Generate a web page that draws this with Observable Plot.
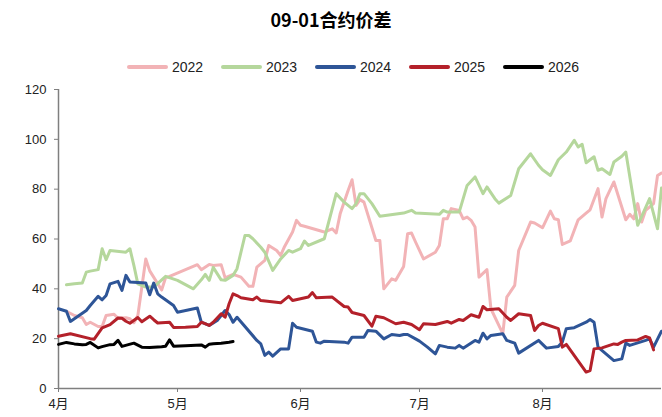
<!DOCTYPE html>
<html><head><meta charset="utf-8">
<script src="https://cdn.jsdelivr.net/npm/d3@7"></script>
<script src="https://cdn.jsdelivr.net/npm/@observablehq/plot@0.6"></script>
<style>
body{margin:0;background:#fff;width:662px;height:417px;overflow:hidden;font-family:"Liberation Sans","Noto Sans CJK SC",sans-serif}
#title{height:38px;line-height:38px;text-align:center;font-weight:bold;font-size:18px;font-family:"Noto Sans CJK SC",sans-serif;color:#000}
#legend{height:42px;position:relative}
.item{position:absolute;top:29px;display:flex;align-items:center;transform:translateY(-50%)}
.sw{width:41px;height:4px;border-radius:2px;margin-right:4px}
.lb{font-size:14px;color:#222;font-family:"Liberation Sans",sans-serif}
</style></head><body>
<div id="title">09-01合约价差</div>
<div id="legend"></div>
<div id="chart"></div>
<script>
const years = ["2022","2023","2024","2025","2026"];
const colors = ["#f2b3b6","#b5d79c","#2e5597","#b4212a","#000000"];
const yTicks = [0,20,40,60,80,100,120];
const monthTickDates = ["04-01","05-01","06-01","07-01","08-01"];

const s2022 = [["04-03",31],["04-05",29.3],["04-07",28.4],["04-08",25.7],["04-09",26.6],["04-11",24.9],["04-12",24.9],["04-13",29.3],["04-15",29.8],["04-16",28.2],["04-18",28.4],["04-19",28],["04-20",26.4],["04-21",29.3],["04-23",52],["04-24",47.2],["04-27",39.5],["04-28",44.5],["04-29",45],["05-06",49.7],["05-07",47.7],["05-09",49.8],["05-10",49.4],["05-12",49.7],["05-13",44.4],["05-15",45.8],["05-17",44.7],["05-19",41],["05-20",41],["05-21",48.7],["05-23",51.4],["05-24",57.4],["05-26",55.4],["05-27",53.4],["05-28",57],["05-30",62.8],["05-31",67.5],["06-01",65.5],["06-02",65.1],["06-07",62.8],["06-09",64.1],["06-10",62.4],["06-11",70.1],["06-13",79.5],["06-14",83.8],["06-15",73.5],["06-16",75.8],["06-17",74.8],["06-20",59.4],["06-21",59.4],["06-22",40],["06-24",44],["06-25",43.4],["06-27",49],["06-28",62.1],["06-29",62.4],["06-30",58.8],["07-02",52],["07-05",54.7],["07-06",57.4],["07-07",68.1],["07-08",68.1],["07-09",72.2],["07-11",71.5],["07-12",68.1],["07-13",68.8],["07-14",67.5],["07-15",64.8],["07-16",44.7],["07-18",47.7],["07-19",32],["07-21",25.3],["07-22",22],["07-23",36.7],["07-25",41.4],["07-26",55.4],["07-29",66.8],["07-30",66.4],["08-01",64.5],["08-03",71.2],["08-04",68.1],["08-05",67.7],["08-06",57.8],["08-08",59.2],["08-10",67.7],["08-12",70.4],["08-13",71.7],["08-15",80.2],["08-16",68.8],["08-17",76.2],["08-19",82.9],["08-22",67.7],["08-23",69.9],["08-24",68.1],["08-25",74.2],["08-26",66.8],["08-27",71.5],["08-29",74.2],["08-30",85.5],["08-31",86.5]];

const s2023 = [["04-03",41.6],["04-05",42],["04-07",42.3],["04-08",46.7],["04-09",47.1],["04-11",47.7],["04-12",56.1],["04-13",51.7],["04-14",55.4],["04-18",54.7],["04-19",56.1],["04-20",49.4],["04-21",42],["04-23",40.7],["04-25",40.7],["04-28",45],["05-01",43.4],["05-05",40],["05-07",43.6],["05-08",45.8],["05-09",43.4],["05-10",48.6],["05-12",43.6],["05-13",43.4],["05-15",45.4],["05-16",48.1],["05-18",61.4],["05-19",61.4],["05-20",60.1],["05-22",56.7],["05-23",54.7],["05-25",47.4],["05-27",52],["05-29",55.4],["05-30",54.7],["06-01",56.1],["06-02",59.2],["06-03",57.4],["06-07",60.1],["06-10",78.2],["06-12",74.8],["06-14",72.2],["06-15",74.2],["06-16",78.2],["06-17",78.2],["06-19",74.2],["06-21",69.1],["06-27",70.4],["06-29",71.5],["06-30",70.4],["07-06",69.9],["07-07",71.5],["07-08",70.8],["07-11",70.8],["07-13",81.5],["07-15",84.9],["07-17",78.2],["07-18",80.9],["07-20",76.2],["07-21",74.4],["07-24",77.5],["07-26",88.2],["07-27",90.2],["07-29",94.2],["07-31",89.6],["08-01",87.8],["08-03",85.5],["08-05",91.8],["08-07",94.9],["08-09",99.6],["08-10",96.9],["08-11",98],["08-12",90.6],["08-14",93],["08-15",87.6],["08-16",88.2],["08-18",85.9],["08-19",90.9],["08-21",93.2],["08-22",94.9],["08-25",65.5],["08-28",76.2],["08-30",64.1],["08-31",80.5]];

const s2024 = [["04-01",32],["04-03",31],["04-04",26.9],["04-08",31.3],["04-09",33.3],["04-11",37],["04-12",35.6],["04-13",37.3],["04-14",42],["04-16",43],["04-17",39.4],["04-18",45.4],["04-19",42.7],["04-23",42.3],["04-24",37.6],["04-25",42.3],["04-26",38],["04-27",36.7],["04-30",33.3],["05-01",30.6],["05-06",32.3],["05-07",26.6],["05-09",25.3],["05-11",27.3],["05-13",31.3],["05-14",29.7],["05-15",26.6],["05-16",28.6],["05-21",19.3],["05-22",17.9],["05-23",13.3],["05-24",14.6],["05-25",13],["05-27",15.9],["05-29",15.9],["05-30",26.2],["05-31",24.6],["06-04",23],["06-05",18.6],["06-06",18.2],["06-07",19],["06-12",18.6],["06-13",18.2],["06-14",20.6],["06-17",20.6],["06-18",23.3],["06-20",23],["06-22",19.9],["06-24",21.7],["06-26",21.3],["06-27",21.7],["06-28",21.7],["06-30",19.9],["07-01",19],["07-03",16.6],["07-05",13.9],["07-06",17.3],["07-08",16.6],["07-10",16.2],["07-11",17.3],["07-12",16.2],["07-15",19.3],["07-16",18.6],["07-17",22.2],["07-18",19.9],["07-19",21.3],["07-22",22],["07-23",19.3],["07-25",18.2],["07-26",14.2],["07-31",19.3],["08-02",16.2],["08-05",16.9],["08-06",18.6],["08-07",24],["08-09",24.4],["08-12",26.6],["08-13",27.7],["08-14",26.6],["08-15",16.6],["08-19",11.2],["08-21",11.9],["08-22",18.2],["08-23",17.3],["08-27",19.3],["08-28",19.9],["08-29",16.6],["08-31",23]];

const s2025 = [["04-01",21],["04-04",22],["04-09",20],["04-10",19.8],["04-12",24.3],["04-14",25.6],["04-16",28.3],["04-17",28.2],["04-18",27],["04-19",26.2],["04-21",28.5],["04-22",26.8],["04-24",29],["04-25",27.6],["04-26",26.3],["04-29",26.6],["04-30",24.5],["05-03",24.6],["05-06",24.9],["05-07",26.6],["05-09",25.3],["05-10",26.6],["05-12",30],["05-13",28.6],["05-14",34],["05-15",38],["05-16",37.3],["05-17",36.4],["05-20",35.6],["05-21",36.7],["05-22",35.3],["05-27",34.4],["05-29",37],["05-30",35.3],["06-01",36],["06-03",36.7],["06-04",38.5],["06-05",36.4],["06-09",36.7],["06-12",32.9],["06-13",32.7],["06-14",30.5],["06-17",29.3],["06-19",25],["06-20",29],["06-22",28.4],["06-25",26],["06-27",26.6],["06-29",25.7],["07-01",23.6],["07-02",26],["07-05",25.7],["07-08",26.9],["07-09",26.2],["07-11",27.7],["07-12",27.3],["07-14",29.6],["07-16",28.6],["07-17",32.9],["07-18",31.6],["07-21",32],["07-23",28.6],["07-24",27.3],["07-26",30],["07-29",29.3],["07-30",23.3],["07-31",25.3],["08-01",26.2],["08-05",24],["08-06",16.6],["08-07",17.7],["08-12",6.6],["08-13",7.2],["08-14",15.9],["08-16",16.3],["08-19",17.9],["08-20",17.7],["08-21",18.6],["08-22",19.3],["08-25",19.5],["08-27",20.9],["08-28",20.3],["08-29",15.5]];

const s2026 = [["04-01",17.7],["04-03",18.5],["04-05",17.9],["04-07",17.6],["04-08",17.7],["04-09",18.5],["04-11",16.3],["04-12",16.8],["04-14",17.6],["04-15",17.7],["04-16",19.3],["04-17",16.9],["04-20",18.2],["04-22",16.6],["04-24",16.5],["04-27",16.8],["04-28",17],["04-29",19.5],["04-30",17],["05-03",17.2],["05-07",17.5],["05-08",16.6],["05-09",17.8],["05-10",18],["05-12",18.2],["05-14",18.6],["05-15",18.9]];

const parse = s => { const [m, d] = s.split("-").map(Number); return new Date(Date.UTC(2001, m - 1, d)); };
const seriesList = [s2022, s2023, s2024, s2025, s2026];
const rows = seriesList.flatMap((arr, i) => arr.map(([d, v]) => ({year: years[i], date: parse(d), value: v})));

// legend
const legend = document.getElementById("legend");
years.forEach((y, i) => {
  const it = document.createElement("div");
  it.className = "item";
  it.style.left = (127 + i * 94) + "px";
  it.innerHTML = `<span class="sw" style="background:${colors[i]}"></span><span class="lb">${y}</span>`;
  legend.appendChild(it);
});

const x0 = parse("04-01"), x1 = parse("08-31");
const chart = Plot.plot({
  width: 662, height: 337,
  marginTop: 9, marginBottom: 29, marginLeft: 58, marginRight: 1,
  style: {fontSize: "13px", fontFamily: "'Liberation Sans','Noto Sans CJK SC',sans-serif", color: "#222", background: "#fff"},
  x: {type: "utc", domain: [x0, x1]},
  y: {domain: [0, 120]},
  color: {domain: years, range: colors},
  marks: [
    Plot.axisY({ticks: yTicks, tickSize: 4, tickPadding: 8, stroke: "#7f7f7f", fill: "#222", label: null, tickFormat: d => d}),
    Plot.axisX({ticks: monthTickDates.map(parse), tickSize: 4, tickPadding: 6, stroke: "#7f7f7f", fill: "#222", label: null, tickFormat: d => (d.getUTCMonth() + 1) + "月"}),
    Plot.ruleX([x0], {stroke: "#7f7f7f", strokeWidth: 1.5}),
    Plot.ruleY([0], {stroke: "#7f7f7f", strokeWidth: 1.5}),
    Plot.line(rows, {x: "date", y: "value", z: "year", stroke: "year", strokeWidth: 3, strokeLinejoin: "round", strokeLinecap: "round"})
  ]
});
document.getElementById("chart").appendChild(chart);
</script>
</body></html>
